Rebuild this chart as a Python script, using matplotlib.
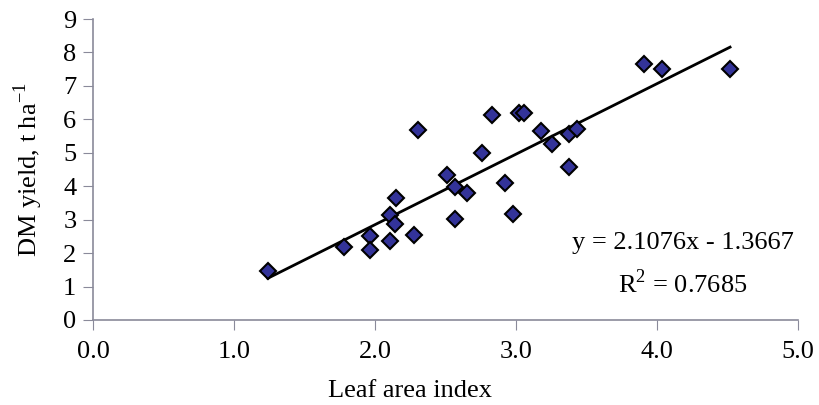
import numpy as np
import matplotlib.pyplot as plt

plt.rcParams['font.family'] = ['Liberation Serif', 'DejaVu Serif']
plt.rcParams['mathtext.fontset'] = 'custom'
plt.rcParams['mathtext.rm'] = 'Liberation Serif'

# Leaf area index vs DM yield (t/ha)
lai = [1.24, 1.78, 1.965, 1.965, 2.105, 2.105, 2.14, 2.15, 2.28, 2.305,
       2.51, 2.565, 2.565, 2.65, 2.76, 2.83, 2.92, 2.98, 3.02, 3.06,
       3.175, 3.26, 3.375, 3.38, 3.435, 3.91, 4.04, 4.52]
dm = [1.45, 2.17, 2.52, 2.10, 2.37, 3.14, 2.87, 3.66, 2.54, 5.67,
      4.34, 3.99, 3.01, 3.79, 4.99, 6.14, 4.11, 3.18, 6.19, 6.19,
      5.66, 5.27, 5.57, 4.57, 5.71, 7.66, 7.51, 7.51]

slope = 2.1076
intercept = -1.3667
r2 = 0.7685

xticks = [0.0, 1.0, 2.0, 3.0, 4.0, 5.0]
yticks = list(range(10))

fig = plt.figure(figsize=(8.19, 4.05), dpi=100)
ax = fig.add_axes([0.1136, 0.21, 0.8604, 0.743])

xfit = np.array([min(lai), max(lai)])
ax.plot(xfit, slope * xfit + intercept, color='black', lw=2, zorder=2)
ax.plot(lai, dm, linestyle='none', marker='D', markersize=8,
        markerfacecolor='#333399', markeredgecolor='black',
        markeredgewidth=1.5, zorder=3)

ax.set_xlim(0, 5)
ax.set_ylim(0, 9)
ax.set_xticks(xticks)
ax.set_xticklabels([f'{t:.1f}' for t in xticks])
ax.set_yticks(yticks)

for s in ['top', 'right']:
    ax.spines[s].set_visible(False)
for s in ['left', 'bottom']:
    ax.spines[s].set_color('#8a8a9a')
    ax.spines[s].set_linewidth(1.2)
ax.tick_params(axis='both', colors='#8a8a9a', labelcolor='black',
               labelsize=19, direction='out')
ax.tick_params(axis='y', length=7, pad=5)
ax.tick_params(axis='x', length=7, pad=8)

ax.set_xlabel('Leaf area index', fontsize=19)
ax.xaxis.set_label_coords(0.45, -0.2)
ax.set_ylabel('DM yield, t ha$^{\\mathregular{-1}}$', fontsize=19)
ax.yaxis.set_label_coords(-0.068, 0.5)

ax.text(0.837, 0.256, f'y = {slope}x - {abs(intercept)}', transform=ax.transAxes,
        ha='center', va='center', fontsize=19)
ax.text(0.837, 0.12, f'R$^{{\\mathregular{{2}}}}$ = {r2}', transform=ax.transAxes,
        ha='center', va='center', fontsize=19)

fig.savefig('out.png', dpi=100)
